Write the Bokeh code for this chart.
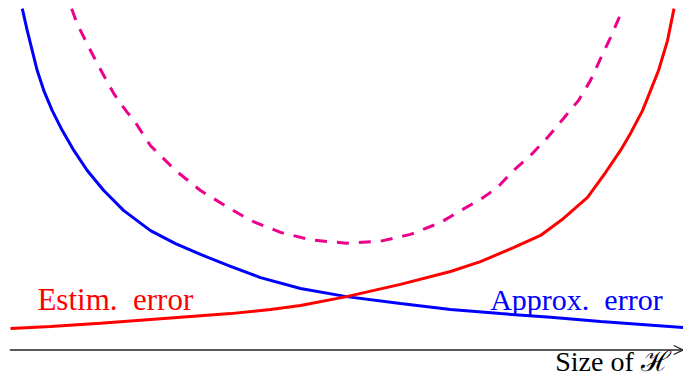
from bokeh.plotting import figure
from bokeh.models import Range1d, Arrow, OpenHead, Label
from bokeh.embed import file_html
from bokeh.resources import INLINE

# Size of hypothesis class (arbitrary units, 0..10)
approx_x = [0.175, 0.248, 0.322, 0.397, 0.495, 0.620, 0.768, 0.941, 1.140, 1.386, 1.683,
            2.080, 2.452, 2.823, 3.269, 3.715, 4.309, 4.993, 5.795, 6.538, 7.281,
            8.024, 8.767, 10.0]
approx_err = [10.04, 9.40, 8.81, 8.22, 7.63, 7.04, 6.46, 5.87, 5.28, 4.69, 4.10,
              3.51, 3.13, 2.81, 2.46, 2.13, 1.81, 1.57, 1.37, 1.19, 1.07,
              0.96, 0.84, 0.66]

estim_x = [0.0, 0.594, 1.337, 2.080, 2.823, 3.269, 3.863, 4.309, 4.993, 5.795, 6.538,
           6.984, 7.474, 7.875, 8.217, 8.574, 8.841, 9.064, 9.212, 9.391, 9.510,
           9.629, 9.762, 9.859]
estim_err = [0.63, 0.69, 0.79, 0.90, 1.01, 1.07, 1.19, 1.31, 1.57, 1.93, 2.31,
             2.60, 3.01, 3.37, 3.87, 4.49, 5.22, 5.87, 6.37, 7.04, 7.63,
             8.22, 9.10, 10.04]

total_x = [0.909, 0.990, 1.065, 1.189, 1.289, 1.362, 1.535, 1.635, 1.735, 1.857, 2.080,
           2.452, 2.823, 3.269, 3.566, 4.012, 4.458, 4.993, 5.498, 5.944, 6.390,
           6.686, 6.984, 7.236, 7.474, 7.727, 7.979, 8.217, 8.440, 8.618, 8.767,
           8.915, 9.101]
total_err = [10.04, 9.60, 9.30, 8.81, 8.43, 8.16, 7.54, 7.25, 6.99, 6.69, 6.01,
             5.28, 4.69, 4.15, 3.81, 3.46, 3.24, 3.14, 3.20, 3.40, 3.75,
             4.10, 4.43, 4.78, 5.28, 5.72, 6.25, 6.81, 7.34, 7.93, 8.57,
             9.19, 10.04]

label_estim = "Estim.\u2002error"
label_approx = "Approx.\u2002error"
label_axis = "Size of \u210B"

p = figure(width=683, height=379, output_backend="svg", toolbar_location=None,
           x_range=Range1d(-10 / 67.3, 673 / 67.3), y_range=Range1d(-29.5 / 34, 349.5 / 34),
           min_border=0, min_border_left=0, min_border_right=0,
           min_border_top=0, min_border_bottom=0)
p.axis.visible = False
p.grid.visible = False
p.outline_line_color = None
p.background_fill_color = "white"
p.border_fill_color = "white"

p.line(total_x, total_err, line_color="#EC008C", line_width=3, line_dash="12 10")
p.line(approx_x, approx_err, line_color="#0000FF", line_width=3)
p.line(estim_x, estim_err, line_color="#FF0000", line_width=3)

p.add_layout(Arrow(end=OpenHead(size=9, line_width=1.3, line_color="#222222"),
                   x_start=-0.01, y_start=0, x_end=9.99, y_end=0,
                   line_color="#222222", line_width=1.4))

font = "Liberation Serif"
p.add_layout(Label(x=0.40, y=1.49, text=label_estim, text_color="#FF0000",
                   text_font=font, text_font_size="31px", text_baseline="alphabetic",
                   text_align="left"))
p.add_layout(Label(x=9.69, y=1.49, text=label_approx, text_color="#0000FF",
                   text_font=font, text_font_size="30px", text_baseline="alphabetic",
                   text_align="right"))
p.add_layout(Label(x=9.81, y=-0.34, text=label_axis, text_color="black",
                   text_font=font, text_font_size="28px", text_baseline="alphabetic",
                   text_align="right"))

open("out.html", "w").write(file_html(p, INLINE))
